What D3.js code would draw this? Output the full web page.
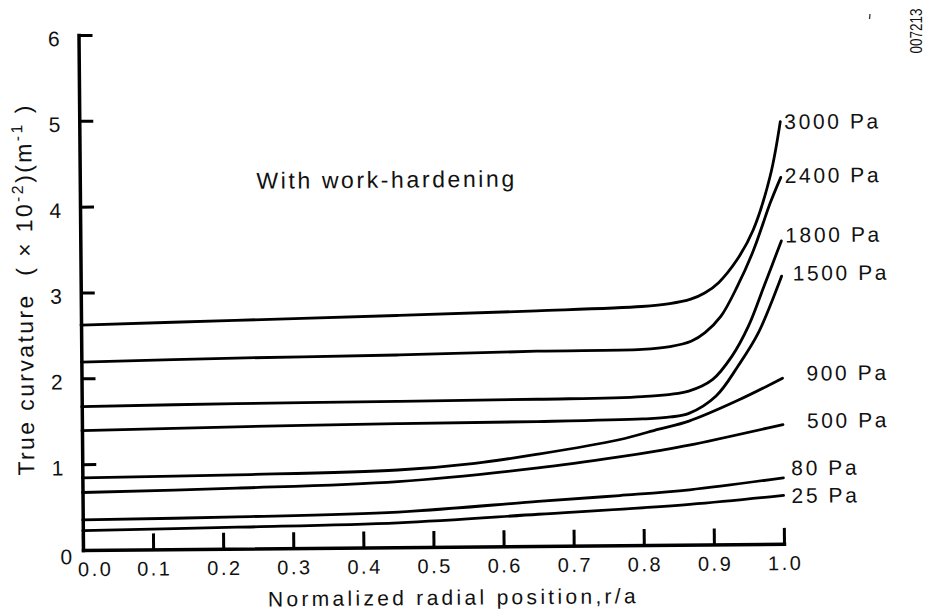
<!DOCTYPE html>
<html>
<head>
<meta charset="utf-8">
<script src="https://cdn.jsdelivr.net/npm/d3@7"></script>
<style>
body { margin: 0; background: #fff; }
svg text { font-family: "Liberation Sans", Arial, Helvetica, sans-serif; fill: #111; }
</style>
</head>
<body>
<div id="container"></div>
<script>
////////// DATA

// normalized radial position r/a -> true curvature (x 10^-2 1/m)
var curve3000 = [[0, 2.62], [0.22, 2.66], [0.45, 2.70], [0.65, 2.74], [0.8, 2.78], [0.84, 2.81], [0.87, 2.86], [0.89, 2.93], [0.91, 3.05], [0.937, 3.32], [0.96, 3.66], [0.985, 4.29], [1.0, 4.92]];
var curve2400 = [[0, 2.19], [0.22, 2.22], [0.45, 2.24], [0.65, 2.27], [0.8, 2.28], [0.84, 2.31], [0.87, 2.37], [0.89, 2.47], [0.913, 2.66], [0.937, 3.01], [0.96, 3.42], [0.985, 3.98], [1.0, 4.27]];
var curve1800 = [[0, 1.67], [0.22, 1.69], [0.45, 1.70], [0.65, 1.71], [0.8, 1.73], [0.866, 1.79], [0.9, 1.92], [0.928, 2.19], [0.952, 2.54], [0.975, 3.01], [1.0, 3.53]];
var curve1500 = [[0, 1.39], [0.22, 1.42], [0.45, 1.44], [0.65, 1.45], [0.8, 1.47], [0.84, 1.49], [0.866, 1.53], [0.905, 1.73], [0.937, 2.08], [0.966, 2.46], [1.0, 3.12]];
var curve900 = [[0, 0.84], [0.22, 0.86], [0.45, 0.90], [0.56, 0.97], [0.65, 1.07], [0.766, 1.23], [0.823, 1.35], [0.866, 1.44], [0.937, 1.68], [1.0, 1.93]];
var curve500 = [[0, 0.67], [0.22, 0.705], [0.45, 0.765], [0.65, 0.91], [0.766, 1.03], [0.823, 1.10], [0.866, 1.16], [1.0, 1.39]];
var curve80 = [[0, 0.35], [0.22, 0.37], [0.45, 0.41], [0.65, 0.52], [0.766, 0.58], [0.866, 0.64], [1.0, 0.77]];
var curve25 = [[0, 0.225], [0.22, 0.25], [0.45, 0.285], [0.65, 0.37], [0.866, 0.47], [1.0, 0.565]];

var seriesNames = ["3000 Pa", "2400 Pa", "1800 Pa", "1500 Pa", "900 Pa", "500 Pa", "80 Pa", "25 Pa"];
var seriesValues = [curve3000, curve2400, curve1800, curve1500, curve900, curve500, curve80, curve25];

var xTicks = [0, 0.1, 0.2, 0.3, 0.4, 0.5, 0.6, 0.7, 0.8, 0.9, 1.0];
var yTicks = [0, 1, 2, 3, 4, 5, 6];

////////// LAYOUT

var gWidth = 930;
var gHeight = 615;
var tilt = -0.5; // the scan is turned a little, so is the plot
var labelShift = [[4, 0], [4, -2], [4, -6], [11, -3], [24, -5], [24, -4], [8, -10], [8, 0]]; // curve label offsets from line ends

var x = d3.scaleLinear().domain([0, 1]).range([83, 784]);
var y = d3.scaleLinear().domain([0, 6]).range([550, 35]);

var svg = d3.select("#container").append("svg")
	.attr("width", gWidth)
	.attr("height", gHeight);

var plot = svg.append("g")
	.attr("transform", "rotate(" + tilt + "," + x(0) + "," + y(0) + ")");

////////// AXES

function styleAxis(g, fontSize)
{
	g.attr("font-family", null).attr("font-size", null);
	g.select(".domain").attr("stroke", "#000").attr("stroke-width", 3.5).attr("stroke-linecap", "square");
	g.selectAll(".tick line").attr("stroke", "#000").attr("stroke-width", 3);
	g.selectAll(".tick text").style("font-size", fontSize + "px").attr("fill", "#111");
}

// X axis, ticks pointing up into the plot
var xAxis = plot.append("g")
	.attr("transform", "translate(0," + y(0) + ")")
	.call(d3.axisBottom(x).tickValues(xTicks).tickSize(-16).tickSizeOuter(0).tickPadding(12)
		.tickFormat(function(d) { return d.toFixed(1); }))
	.call(styleAxis, 20);
xAxis.selectAll(".tick text")
	.style("letter-spacing", "2.5px")
	.attr("dx", function(d) { return d === 0 ? 12 : 1; });

// Y axis, ticks pointing right
var yAxis = plot.append("g")
	.attr("transform", "translate(" + x(0) + ",0)")
	.call(d3.axisLeft(y).tickValues(yTicks).tickSize(-14).tickSizeOuter(0).tickPadding(19)
		.tickFormat(d3.format("d")))
	.call(styleAxis, 21);
yAxis.selectAll(".tick text")
	.attr("dy", "0.5em")
	.attr("x", function(d) { return d === 0 ? -11 : -19; })
	.attr("y", function(d) { return d === 0 ? 3 : 0; });

////////// CURVES

var line = d3.line()
	.x(function(d) { return x(d[0]); })
	.y(function(d) { return y(d[1]); })
	.curve(d3.curveCatmullRom.alpha(0.5));

plot.selectAll(".curve").data(seriesValues).enter().append("path")
	.attr("class", "curve")
	.attr("d", line)
	.attr("fill", "none")
	.attr("stroke", "#000")
	.attr("stroke-width", 2.8)
	.attr("stroke-linecap", "round");

// pressure labels at the right end of each curve
plot.selectAll(".curveLabel").data(seriesValues).enter().append("text")
	.attr("class", "curveLabel")
	.attr("x", function(d, i) { var last = d[d.length - 1]; return x(last[0]) + labelShift[i][0]; })
	.attr("y", function(d, i) { var last = d[d.length - 1]; return y(last[1]) + labelShift[i][1]; })
	.attr("dy", "0.36em")
	.style("font-size", "21px")
	.style("letter-spacing", "2.6px")
	.text(function(d, i) { return seriesNames[i]; });

////////// TEXTS

plot.append("text")
	.attr("x", x(0.252))
	.attr("y", y(4.19))
	.style("font-size", "23px")
	.style("letter-spacing", "2.6px")
	.text("With work-hardening");

plot.append("text")
	.attr("x", 453)
	.attr("y", 608)
	.attr("text-anchor", "middle")
	.style("font-size", "21px")
	.style("letter-spacing", "3.3px")
	.text("Normalized radial position,r/a");

var yTitle = plot.append("text")
	.attr("transform", "translate(35,289) rotate(-90)")
	.attr("text-anchor", "middle")
	.style("font-size", "23px")
	.style("letter-spacing", "2.4px")
	.style("white-space", "pre");
yTitle.append("tspan").text("True curvature  ( \u00d7 10");
yTitle.append("tspan").attr("dy", -9).style("font-size", "16px").text("-2");
yTitle.append("tspan").attr("dy", 9).text(")(m");
yTitle.append("tspan").attr("dy", -9).style("font-size", "16px").text("-1");
yTitle.append("tspan").attr("dy", 9).text(" )");

// figure number printed sideways in the corner
svg.append("text")
	.attr("transform", "translate(922,31) rotate(-90)")
	.attr("text-anchor", "middle")
	.attr("textLength", 45)
	.attr("lengthAdjust", "spacingAndGlyphs")
	.style("font-size", "16px")
	.text("007213");

svg.append("line")
	.attr("x1", 870).attr("y1", 14)
	.attr("x2", 869.5).attr("y2", 19)
	.attr("stroke", "#333")
	.attr("stroke-width", 1.3);
</script>
</body>
</html>
